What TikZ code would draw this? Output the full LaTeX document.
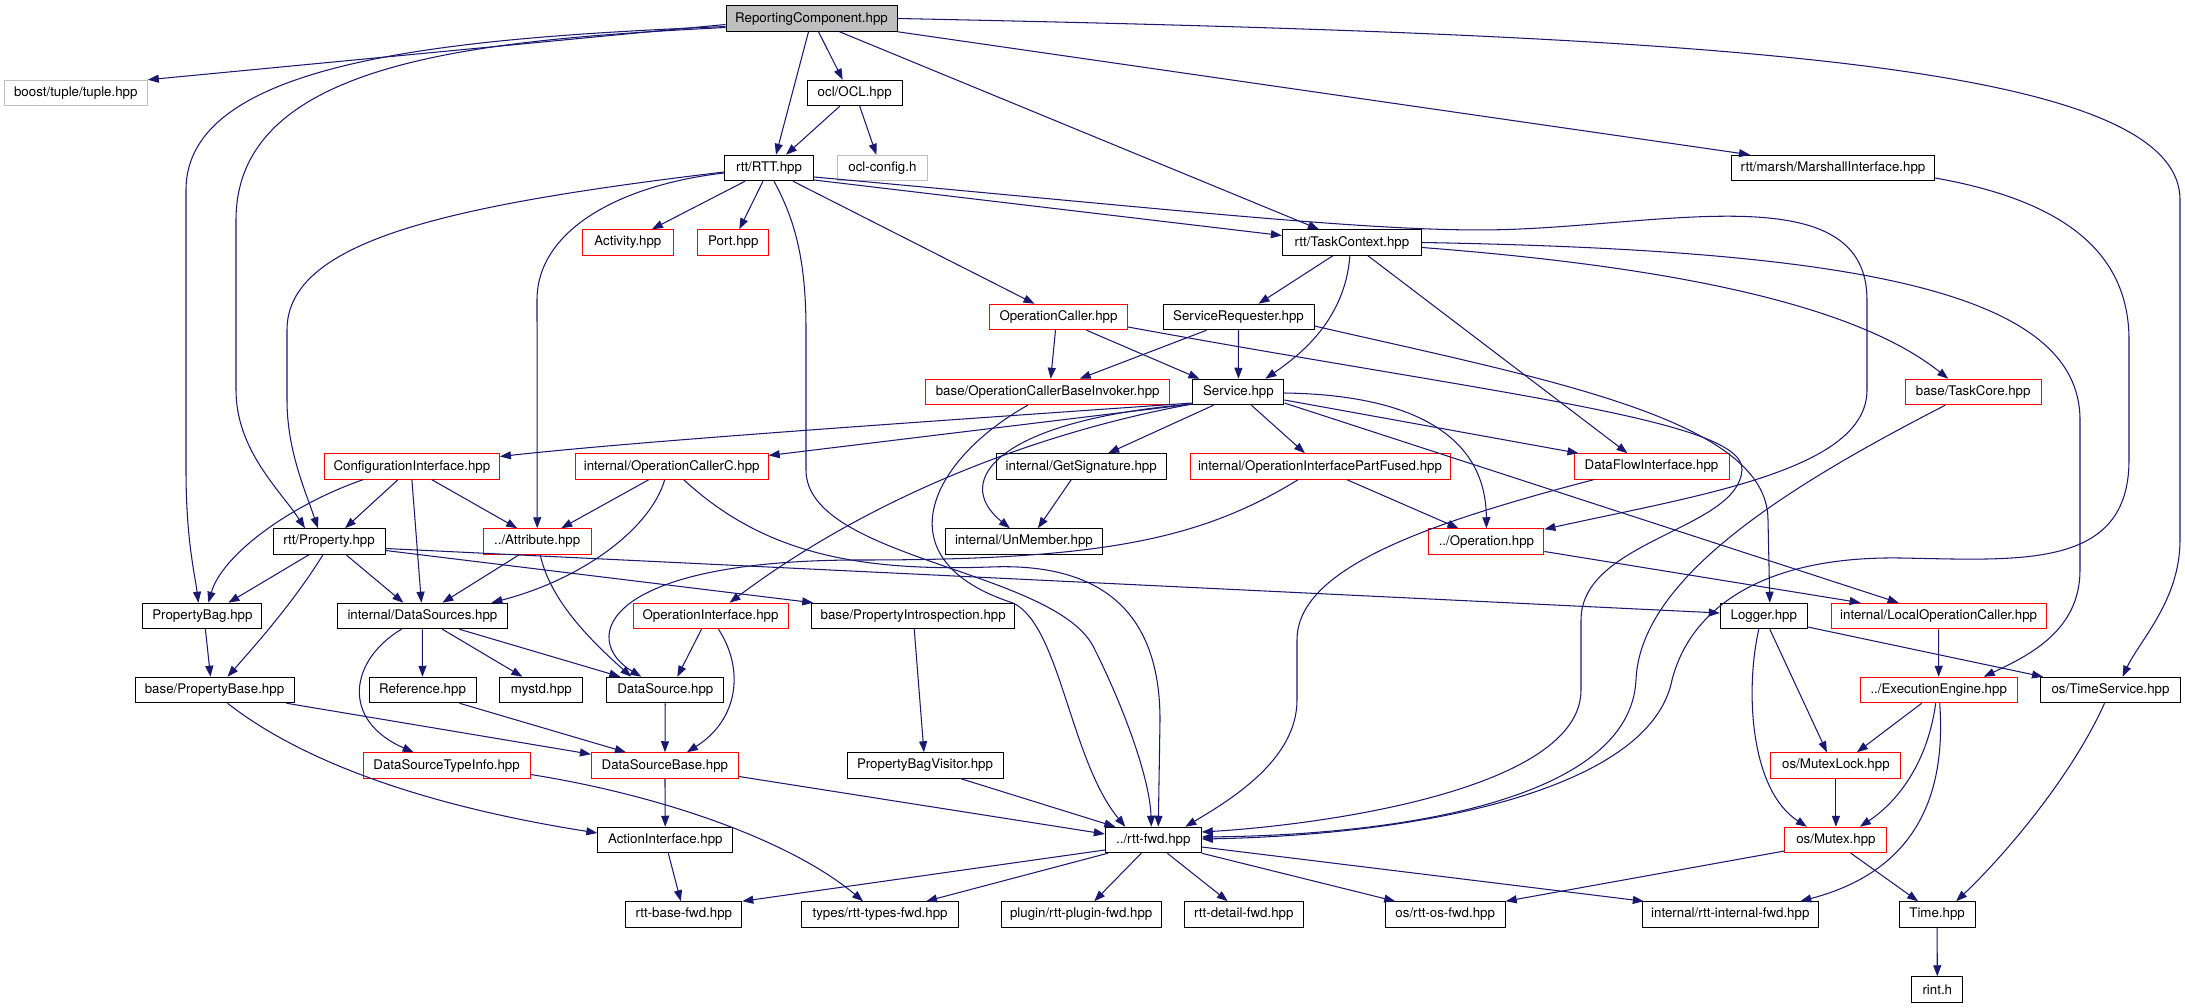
\documentclass[tikz,border=0pt]{standalone}
\usepackage{fontspec}
\newfontfamily\heros{TeX Gyre Heros}
\usetikzlibrary{arrows.meta}
\definecolor{edgeblue}{HTML}{191970}
\definecolor{boxgray}{HTML}{BFBFBF}
\tikzset{
	hfile/.style={draw=black, line width=1pt, minimum height=25.5pt, inner sep=0pt, font=\heros\fontsize{13.3}{15}\selectfont},
	hred/.style={hfile, draw=red},
	hgray/.style={hfile, draw=boxgray},
	inc/.style={draw=edgeblue, line width=1.05pt, -{Triangle[length=11pt,width=8pt]}},
}

\begin{document}
\begin{tikzpicture}[x=1pt, y=-1pt]
			\useasboundingbox[fill=white] (0, 0) rectangle (2185, 1008);
			
			%%%%% FILES %%%%%
			
			\node[hfile, fill=boxgray, minimum width=171] (rc) at (811.5, 18.5) {ReportingComponent.hpp};
			
			\node[hgray, minimum width=143] (boost) at (75.8, 93) {boost/tuple/tuple.hpp};
			\node[hfile, minimum width=95] (ocl) at (854.7, 93) {ocl/OCL.hpp};
			
			\node[hfile, minimum width=89] (rtt) at (769, 168) {rtt/RTT.hpp};
			\node[hgray, minimum width=90] (oclcfg) at (882.4, 168) {ocl-config.h};
			\node[hfile, minimum width=203] (marsh) at (1833, 168) {rtt/marsh/MarshallInterface.hpp};
			
			\node[hred, minimum width=91] (act) at (627.9, 242.5) {Activity.hpp};
			\node[hred, minimum width=71] (port) at (733.3, 242.5) {Port.hpp};
			\node[hfile, minimum width=139] (task) at (1351.9, 242.5) {rtt/TaskContext.hpp};
			
			\node[hred, minimum width=138] (opcaller) at (1058.5, 317) {OperationCaller.hpp};
			\node[hfile, minimum width=151] (srvreq) at (1238.5, 317) {ServiceRequester.hpp};
			
			\node[hred, minimum width=244] (invoker) at (1047.7, 392) {base/OperationCallerBaseInvoker.hpp};
			\node[hfile, minimum width=91] (service) at (1238.4, 392) {Service.hpp};
			\node[hred, minimum width=136] (taskcore) at (1973.2, 392) {base/TaskCore.hpp};
			
			\node[hred, minimum width=175] (config) at (411.9, 466.5) {ConfigurationInterface.hpp};
			\node[hred, minimum width=193] (opcallerc) at (671.7, 466.5) {internal/OperationCallerC.hpp};
			\node[hfile, minimum width=170] (getsig) at (1081.2, 466.5) {internal/GetSignature.hpp};
			\node[hred, minimum width=260] (fused) at (1320, 466.5) {internal/OperationInterfacePartFused.hpp};
			\node[hred, minimum width=155] (dataflow) at (1651.5, 466.5) {DataFlowInterface.hpp};
			
			\node[hfile, minimum width=112] (property) at (329, 541.5) {rtt/Property.hpp};
			\node[hred, minimum width=108] (attr) at (537.2, 541.5) {../Attribute.hpp};
			\node[hfile, minimum width=157] (unmember) at (1023.9, 541.5) {internal/UnMember.hpp};
			\node[hred, minimum width=115] (operation) at (1486.4, 541.5) {../Operation.hpp};
			
			\node[hfile, minimum width=119] (pbag) at (202.4, 616) {PropertyBag.hpp};
			\node[hfile, minimum width=170] (dsources) at (422.4, 616) {internal/DataSources.hpp};
			\node[hred, minimum width=155] (opiface) at (710.5, 616) {OperationInterface.hpp};
			\node[hfile, minimum width=203] (introsp) at (913.2, 616) {base/PropertyIntrospection.hpp};
			\node[hfile, minimum width=87] (logger) at (1763.8, 616) {Logger.hpp};
			\node[hred, minimum width=215] (localop) at (1938.6, 616) {internal/LocalOperationCaller.hpp};
			
			\node[hfile, minimum width=159] (pbase) at (214.5, 690) {base/PropertyBase.hpp};
			\node[hfile, minimum width=107] (reference) at (422.5, 690) {Reference.hpp};
			\node[hfile, minimum width=83] (mystd) at (541.4, 690) {mystd.hpp};
			\node[hfile, minimum width=117] (datasource) at (665.3, 690) {DataSource.hpp};
			\node[hred, minimum width=157] (exeng) at (1938.7, 690) {../ExecutionEngine.hpp};
			\node[hfile, minimum width=140] (timesvc) at (2110.5, 690) {os/TimeService.hpp};
			
			\node[hred, minimum width=167] (dstype) at (446.6, 765.5) {DataSourceTypeInfo.hpp};
			\node[hred, minimum width=147] (dsbase) at (664.9, 765.5) {DataSourceBase.hpp};
			\node[hfile, minimum width=156] (pbagvis) at (925, 765.5) {PropertyBagVisitor.hpp};
			\node[hred, minimum width=130] (mutexlock) at (1835.9, 765.5) {os/MutexLock.hpp};
			
			\node[hfile, minimum width=135] (action) at (665.3, 840) {ActionInterface.hpp};
			\node[hfile, minimum width=96] (rttfwd) at (1153.3, 840) {../rtt-fwd.hpp};
			\node[hred, minimum width=102] (mutex) at (1835.9, 840) {os/Mutex.hpp};
			
			\node[hfile, minimum width=116] (basefwd) at (683.8, 914.5) {rtt-base-fwd.hpp};
			\node[hfile, minimum width=157] (typesfwd) at (880.1, 914.5) {types/rtt-types-fwd.hpp};
			\node[hfile, minimum width=160] (pluginfwd) at (1081.2, 914.5) {plugin/rtt-plugin-fwd.hpp};
			\node[hfile, minimum width=119] (detailfwd) at (1243.8, 914.5) {rtt-detail-fwd.hpp};
			\node[hfile, minimum width=120] (osfwd) at (1445.2, 914.5) {os/rtt-os-fwd.hpp};
			\node[hfile, minimum width=176] (internalfwd) at (1730.3, 914.5) {internal/rtt-internal-fwd.hpp};
			\node[hfile, minimum width=76] (time) at (1937.1, 914.5) {Time.hpp};
			
			\node[hfile, minimum width=51] (rint) at (1937.3, 989.5) {rint.h};
			
			%%%%% INCLUDES %%%%%
			
			% ReportingComponent
			\draw[inc] ([yshift=-6]rc.west) -- (boost.north east);
			\draw[inc] ([yshift=-8]rc.west) .. controls (450, 38) and (186, 60) .. (186, 190) -- (186, 470) .. controls (186, 540) and (195, 575) .. ([xshift=-4]pbag.north);
			\draw[inc] ([yshift=-9]rc.west) .. controls (480, 40) and (236, 60) .. (236, 220) -- (236, 390) .. controls (236, 450) and (280, 490) .. ([xshift=-24]property.north);
			\draw[inc] ([xshift=-3]rc.south) -- ([xshift=7]rtt.north);
			\draw[inc] ([xshift=7]rc.south) -- ([xshift=-12]ocl.north);
			\draw[inc] ([xshift=28]rc.south) -- ([xshift=-33]task.north);
			\draw[inc] (rc.south east) -- ([xshift=-83]marsh.north);
			\draw[inc] (rc.east) .. controls (1700, 35) and (2180, 60) .. (2180, 200) -- (2180, 540) .. controls (2180, 600) and (2140, 640) .. ([xshift=12]timesvc.north);
			
			% OCL and RTT
			\draw[inc] ([xshift=-15]ocl.south) -- ([xshift=17]rtt.north);
			\draw[inc] ([xshift=5]ocl.south) -- ([xshift=-6]oclcfg.north);
			\draw[inc] ([xshift=-24]rtt.south) -- ([xshift=24]act.north);
			\draw[inc] ([xshift=-6]rtt.south) -- ([xshift=6]port.north);
			\draw[inc] ([xshift=24]rtt.south) -- ([xshift=-24]opcaller.north);
			\draw[inc] ([yshift=-12]rtt.east) -- ([yshift=7]task.west);
			\draw[inc] ([yshift=-9]rtt.east) .. controls (1200, 212) and (1400, 235) .. (1520, 229) .. controls (1680, 222) and (1867, 180) .. (1867, 300) -- (1867, 390) .. controls (1867, 470) and (1700, 495) .. ([yshift=-1]operation.north east);
			\draw[inc] ([yshift=-4]rtt.west) .. controls (450, 205) and (287, 240) .. (287, 330) -- (287, 400) .. controls (287, 450) and (305, 490) .. ([xshift=-11]property.north);
			\draw[inc] ([yshift=-5]rtt.west) .. controls (620, 185) and (537, 230) .. (537, 300) -- (attr.north);
			\draw[inc] ([xshift=5]rtt.south) .. controls (795, 220) and (806, 260) .. (806, 330) -- (806, 470) .. controls (806, 560) and (1060, 570) .. (1095, 650) .. controls (1125, 710) and (1150, 780) .. ([xshift=-2]rttfwd.north);
			
			% TaskContext
			\draw[inc] ([xshift=-19]task.south) -- ([xshift=20]srvreq.north);
			\draw[inc] ([xshift=-2]task.south) .. controls (1345, 320) and (1300, 355) .. ([xshift=27]service.north);
			\draw[inc] ([xshift=16]task.south) -- ([xshift=-24]dataflow.north);
			\draw[inc] ([yshift=-5]task.east) .. controls (1650, 265) and (1850, 300) .. ([xshift=-25]taskcore.north);
			\draw[inc] (task.east) .. controls (1850, 250) and (2080, 290) .. (2080, 420) -- (2080, 570) .. controls (2080, 630) and (2030, 655) .. ([xshift=45]exeng.north);
			
			% OperationCaller, ServiceRequester
			\draw[inc] ([xshift=-3]opcaller.south) -- ([xshift=3]invoker.north);
			\draw[inc] ([xshift=28]opcaller.south) -- ([xshift=-39]service.north);
			\draw[inc] ([yshift=-10]opcaller.east) .. controls (1500, 395) and (1745, 420) .. (1742, 470) .. controls (1738, 530) and (1581, 540) .. (1581, 620) -- (1581, 690) .. controls (1581, 790) and (1320, 825) .. ([yshift=8]rttfwd.east);
			\draw[inc] ([xshift=-32]srvreq.south) -- ([xshift=32]invoker.north);
			\draw[inc] (srvreq) -- (service);
			\draw[inc] ([yshift=-9]srvreq.east) .. controls (1550, 380) and (1768, 420) .. (1768, 520) -- ([xshift=6]logger.north);
			
			% Service
			\draw[inc] ([yshift=-11]service.west) .. controls (950, 420) and (650, 440) .. ([yshift=10]config.east);
			\draw[inc] ([yshift=-12]service.west) -- ([yshift=11]opcallerc.east);
			\draw[inc] ([yshift=-12]service.west) .. controls (1050, 430) and (880, 490) .. ([xshift=19]opiface.north);
			\draw[inc] ([yshift=-12]service.west) .. controls (1000, 420) and (950, 480) .. ([xshift=-14]unmember.north);
			\draw[inc] ([xshift=-25]service.south) -- ([xshift=27]getsig.north);
			\draw[inc] ([xshift=13]service.south) -- ([xshift=-15]fused.north);
			\draw[inc] ([yshift=-8]service.east) -- ([xshift=-73]dataflow.north);
			\draw[inc] ([yshift=-1]service.east) .. controls (1420, 395) and (1486, 440) .. (operation.north);
			\draw[inc] ([yshift=-11]service.east) -- ([xshift=-40]localop.north);
			\draw[inc] ([xshift=-10]getsig.south) -- ([xshift=14]unmember.north);
			\draw[inc] ([xshift=-20]invoker.south) .. controls (930, 460) and (880, 560) .. (1013, 603) .. controls (1060, 625) and (1070, 760) .. ([xshift=-28]rttfwd.north);
			
			% ConfigurationInterface, OperationCallerC
			\draw[inc] ([xshift=-49]config.south) .. controls (290, 505) and (222, 555) .. ([xshift=6]pbag.north);
			\draw[inc] ([xshift=-14]config.south) -- ([xshift=16]property.north);
			\draw[inc] (config.south) -- ([xshift=-1]dsources.north);
			\draw[inc] ([xshift=20]config.south) -- ([xshift=-20]attr.north);
			\draw[inc] ([xshift=-23]opcallerc.south) -- ([xshift=24]attr.north);
			\draw[inc] ([xshift=-7]opcallerc.south) .. controls (650, 530) and (580, 580) .. ([xshift=69]dsources.north);
			\draw[inc] ([xshift=12]opcallerc.south) .. controls (760, 550) and (850, 572) .. (990, 567) .. controls (1110, 562) and (1160, 620) .. (1160, 720) -- ([xshift=5]rttfwd.north);
			
			% Property, Attribute
			\draw[inc] ([xshift=-20]property.south) -- ([xshift=26]pbag.north);
			\draw[inc] ([xshift=-6]property.south) .. controls (295, 600) and (260, 640) .. ([xshift=13]pbase.north);
			\draw[inc] ([xshift=17]property.south) -- ([xshift=-19]dsources.north);
			\draw[inc] ([yshift=-9]property.east) -- ([xshift=2]introsp.north west);
			\draw[inc] ([yshift=-7]property.east) -- ([yshift=3]logger.west);
			\draw[inc] ([xshift=-18]attr.south) -- ([xshift=20]dsources.north);
			\draw[inc] ([xshift=3]attr.south) .. controls (550, 600) and (590, 640) .. ([xshift=-34]datasource.north);
			
			% PartFused, Operation, OperationInterface
			\draw[inc] ([xshift=-22]fused.south) .. controls (1200, 540) and (1100, 560) .. (860, 560) .. controls (600, 560) and (580, 640) .. ([xshift=-24]datasource.north);
			\draw[inc] ([xshift=27]fused.south) -- ([xshift=-28]operation.north);
			\draw[inc] ([yshift=-10]operation.east) -- ([xshift=-78]localop.north);
			\draw[inc] ([xshift=-9]opiface.south) -- ([xshift=12]datasource.north);
			\draw[inc] ([xshift=8]opiface.south) .. controls (745, 670) and (738, 720) .. ([xshift=22]dsbase.north);
			\draw[inc] (introsp) -- (pbagvis);
			
			% long ones into rtt-fwd
			\draw[inc] ([xshift=-58]dataflow.south) .. controls (1420, 525) and (1297, 570) .. (1297, 640) -- (1297, 700) .. controls (1297, 760) and (1230, 800) .. ([xshift=32]rttfwd.north);
			\draw[inc] ([xshift=-28]taskcore.south) .. controls (1780, 490) and (1640, 580) .. (1636, 680) .. controls (1630, 800) and (1400, 835) .. ([yshift=3]rttfwd.east);
			\draw[inc] ([yshift=-10]marsh.east) .. controls (2060, 200) and (2129, 250) .. (2129, 340) -- (2129, 460) .. controls (2129, 570) and (2020, 560) .. (1900, 558) .. controls (1760, 556) and (1690, 610) .. (1672, 680) .. controls (1650, 790) and (1420, 835) .. ([yshift=1]rttfwd.east);
			
			% DataSources, PropertyBase, DataSourceBase
			\draw[inc] ([xshift=3]pbag.south) -- ([xshift=-4]pbase.north);
			\draw[inc] ([xshift=-21]dsources.south) .. controls (350, 660) and (340, 720) .. ([xshift=-33]dstype.north);
			\draw[inc] (dsources) -- (reference);
			\draw[inc] ([xshift=20]dsources.south) -- ([xshift=-19]mystd.north);
			\draw[inc] ([xshift=37]dsources.south) -- ([xshift=-45]datasource.north);
			\draw[inc] (datasource) -- (dsbase);
			\draw[inc] ([xshift=37]reference.south) -- ([xshift=-39]dsbase.north);
			\draw[inc] ([xshift=-8]pbase.south east) -- ([yshift=-2]dsbase.north west);
			\draw[inc] ([xshift=13]pbase.south) .. controls (300, 760) and (420, 805) .. ([yshift=7]action.west);
			\draw[inc] ([yshift=-9]dstype.east) .. controls (660, 795) and (790, 840) .. ([xshift=-17]typesfwd.north);
			\draw[inc] (dsbase) -- (action);
			\draw[inc] ([yshift=-11]dsbase.east) -- ([yshift=6]rttfwd.west);
			\draw[inc] ([xshift=36]pbagvis.south) -- ([xshift=-38]rttfwd.north);
			\draw[inc] ([xshift=3]action.south) -- ([xshift=-3]basefwd.north);
			
			% out of rtt-fwd
			\draw[inc] ([yshift=-10]rttfwd.west) -- (basefwd.north east);
			\draw[inc] ([xshift=3]rttfwd.south west) -- ([xshift=46]typesfwd.north);
			\draw[inc] ([xshift=-12]rttfwd.south) -- ([xshift=13]pluginfwd.north);
			\draw[inc] ([xshift=14]rttfwd.south) -- ([xshift=-16]detailfwd.north);
			\draw[inc] (rttfwd.south east) -- ([xshift=-50]osfwd.north);
			\draw[inc] ([yshift=-7]rttfwd.east) -- ([xshift=2]internalfwd.north west);
			
			% os side
			\draw[inc] (localop) -- (exeng);
			\draw[inc] ([yshift=-11]logger.east) -- ([xshift=3]timesvc.north west);
			\draw[inc] ([xshift=6]logger.south) -- ([xshift=-9]mutexlock.north);
			\draw[inc] ([xshift=-5]logger.south) .. controls (1745, 690) and (1750, 790) .. ([xshift=-29]mutex.north);
			\draw[inc] ([xshift=-17]exeng.south) -- ([xshift=21]mutexlock.north);
			\draw[inc] ([xshift=-3]exeng.south) .. controls (1928, 760) and (1900, 800) .. ([xshift=24]mutex.north);
			\draw[inc] ([xshift=1]exeng.south) .. controls (1946, 790) and (1920, 870) .. ([xshift=70]internalfwd.north);
			\draw[inc] ([xshift=-6]timesvc.south) .. controls (2070, 780) and (2000, 860) .. ([xshift=19]time.north);
			\draw[inc] (mutexlock) -- (mutex);
			\draw[inc] ([yshift=-11]mutex.west) -- (osfwd.north east);
			\draw[inc] ([xshift=15]mutex.south) -- ([xshift=-19]time.north);
			\draw[inc] (time) -- (rint);
			
			%%%%% END %%%%%
\end{tikzpicture}
\end{document}
